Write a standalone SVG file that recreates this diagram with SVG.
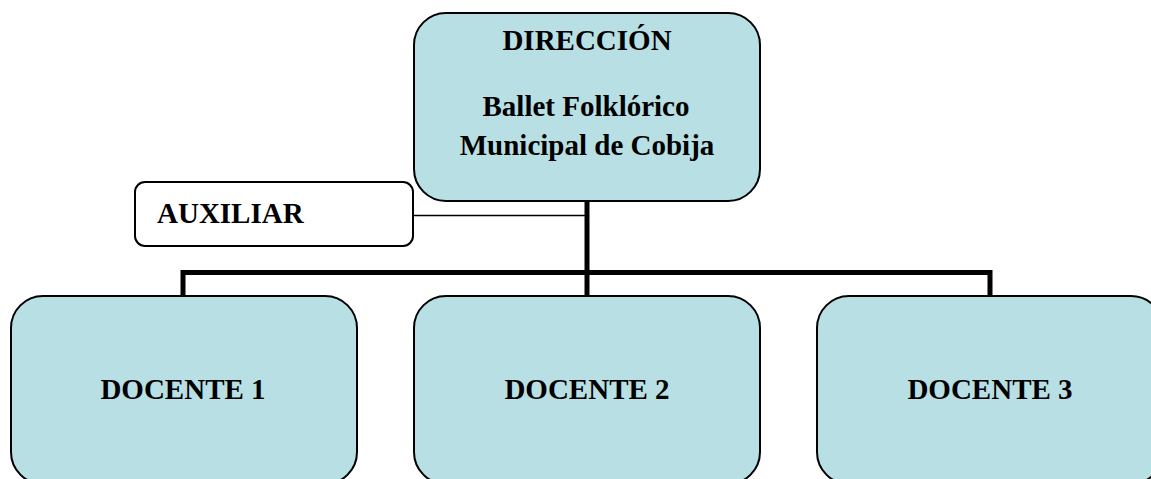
<svg xmlns="http://www.w3.org/2000/svg" width="1151" height="479" viewBox="0 0 1151 479">
<style>
.box{fill:#b8dfe3;stroke:#000;stroke-width:2}
.aux{fill:#fff;stroke:#000;stroke-width:2}
.t{font-family:"Liberation Serif","Times New Roman",serif;font-weight:bold;font-size:29px;fill:#000}
.c{text-anchor:middle}
.thick{fill:none;stroke:#000;stroke-width:5;stroke-linejoin:miter;stroke-linecap:square}
.thin{fill:none;stroke:#000;stroke-width:1.5}
</style>
<rect width="1151" height="479" fill="#fff"/>
<g id="connectors">
<path class="thick" d="M587 202 V296"/>
<path class="thick" d="M183 296 V272.5 H990 V296"/>
<path class="thin" d="M414 215.5 H587"/>
</g>
<g id="direccion">
<rect class="box" x="414" y="13" width="346" height="188" rx="32"/>
<text class="t c" x="587" y="50">DIRECCIÓN</text>
<text class="t c" x="586" y="116">Ballet Folklórico</text>
<text class="t c" x="587" y="155">Municipal de Cobija</text>
</g>
<g id="auxiliar">
<rect class="aux" x="135" y="182" width="278" height="64" rx="10"/>
<text class="t" x="157" y="223">AUXILIAR</text>
</g>
<g id="docente1">
<rect class="box" x="11" y="296" width="346" height="188" rx="32"/>
<text class="t c" x="183" y="399">DOCENTE 1</text>
</g>
<g id="docente2">
<rect class="box" x="414" y="296" width="346" height="188" rx="32"/>
<text class="t c" x="587" y="399">DOCENTE 2</text>
</g>
<g id="docente3">
<rect class="box" x="817" y="296" width="346" height="188" rx="32"/>
<text class="t c" x="990" y="399">DOCENTE 3</text>
</g>
</svg>
